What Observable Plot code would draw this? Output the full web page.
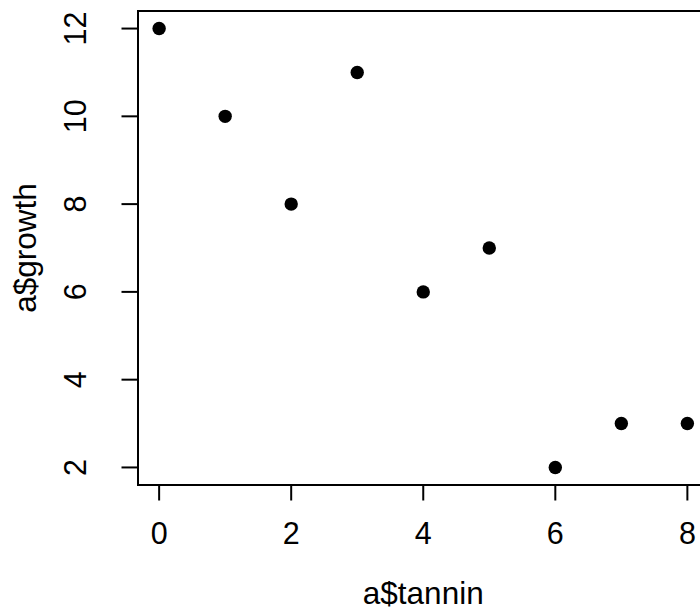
<!DOCTYPE html>
<html><head><meta charset="utf-8">
<script src="https://cdn.jsdelivr.net/npm/d3@7"></script>
<script src="https://cdn.jsdelivr.net/npm/@observablehq/plot@0.6"></script>
<style>html,body{margin:0;padding:0;overflow:hidden;background:#fff} svg{max-width:none !important;}</style>
</head><body><div id="chart"></div>
<script>
const tannin = [0, 1, 2, 3, 4, 5, 6, 7, 8];
const growth = [12, 10, 8, 11, 6, 7, 2, 3, 3];
const xTicks = [0, 2, 4, 6, 8];
const yTicks = [2, 4, 6, 8, 10, 12];
const xTitle = "a$tannin";
const yTitle = "a$growth";

const data = tannin.map((t, i) => ({tannin: t, growth: growth[i]}));
const font = "'Liberation Sans', Arial, Helvetica, sans-serif";

const chart = Plot.plot({
  width: 708, height: 612,
  marginLeft: 137.5, marginRight: 0, marginTop: 10.5, marginBottom: 127.5,
  style: {fontFamily: font, fontSize: "30px", background: "white", overflow: "visible", maxWidth: "none"},
  x: {domain: [-0.32, 8.32]},
  y: {domain: [1.6, 12.4]},
  marks: [
    Plot.axisX(xTicks, {tickSize: 16, tickPadding: 21, fontSize: 30.5, strokeWidth: 2, label: null, fill: "black"}),
    Plot.axisY(yTicks, {tickSize: 16, tickPadding: 36, tickRotate: -90, fontSize: 30.5, strokeWidth: 2, label: null, fill: "black"}),
    Plot.frame({stroke: "black", strokeWidth: 2}),
    Plot.dot(data, {x: "tannin", y: "growth", r: 6.7, fill: "black", stroke: null}),
    Plot.text([xTitle], {frameAnchor: "bottom", text: d => d, textAnchor: "middle", lineAnchor: "bottom", dy: 119, fontSize: 31.5, fill: "black"}),
    Plot.text([yTitle], {frameAnchor: "left", text: d => d, rotate: -90, textAnchor: "middle", lineAnchor: "bottom", dx: -102, fontSize: 31.5, fill: "black"})
  ]
});
document.getElementById("chart").appendChild(chart);
</script>
</body></html>
